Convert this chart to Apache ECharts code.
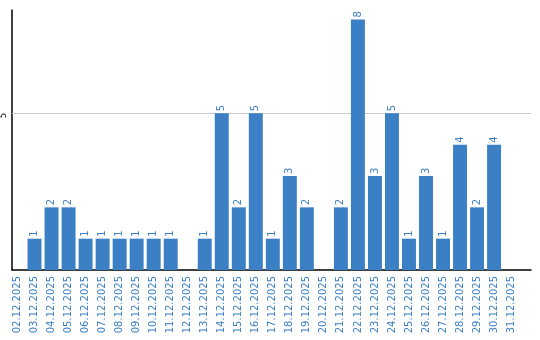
<!DOCTYPE html>
<html><head><meta charset="utf-8">
<script src="https://cdn.jsdelivr.net/npm/echarts@6/dist/echarts.min.js"></script>
<style>html,body{margin:0;padding:0;background:#fff}#c{width:540px;height:340px}</style>
</head><body><div id="c"></div>
<script>
const categories = ["02.12.2025","03.12.2025","04.12.2025","05.12.2025","06.12.2025","07.12.2025","08.12.2025","09.12.2025","10.12.2025","11.12.2025","12.12.2025","13.12.2025","14.12.2025","15.12.2025","16.12.2025","17.12.2025","18.12.2025","19.12.2025","20.12.2025","21.12.2025","22.12.2025","23.12.2025","24.12.2025","25.12.2025","26.12.2025","27.12.2025","28.12.2025","29.12.2025","30.12.2025","31.12.2025"];
const values = [0,1,2,2,1,1,1,1,1,1,0,1,5,2,5,1,3,2,0,2,8,3,5,1,3,1,4,2,4,0];
const yTicks = [5];
const blue = '#3b7fc4';
const yMax = 8.3;
const chart = echarts.init(document.getElementById('c'));
chart.setOption({
  animation: false,
  grid: [
    {left: 11, right: 9, top: 10, bottom: 70},
    {left: 9, right: 20.4, top: 10, bottom: 70}
  ],
  xAxis: [
    {gridIndex: 0, type: 'value', min: 0, max: 1,
      axisLine: {show: true, onZero: false, lineStyle: {color: '#000', width: 1.5}},
      axisTick: {show: false}, axisLabel: {show: false}, splitLine: {show: false}},
    {gridIndex: 1, type: 'category', data: categories,
      axisLine: {show: false}, axisTick: {show: false},
      axisLabel: {rotate: 90, color: blue, fontFamily: 'DejaVu Sans', fontSize: 10, margin: 6, interval: 0}}
  ],
  yAxis: [
    {gridIndex: 0, type: 'value', min: 0, max: yMax, interval: 5,
      axisLine: {show: true, lineStyle: {color: '#000', width: 1.5}},
      axisTick: {show: false}, splitLine: {show: false},
      axisLabel: {rotate: 90, color: '#000', fontFamily: 'DejaVu Sans', fontSize: 8, margin: 4,
        align: 'center', padding: [0, 4, 0, 0],
        formatter: v => yTicks.includes(v) ? String(v) : ''}},
    {gridIndex: 1, type: 'value', min: 0, max: yMax,
      axisLine: {show: false}, axisTick: {show: false}, axisLabel: {show: false}, splitLine: {show: false}}
  ],
  series: [
    {type: 'line', xAxisIndex: 0, yAxisIndex: 0, data: [], silent: true, z: 1,
      markLine: {silent: true, symbol: 'none', label: {show: false}, z: 1,
        lineStyle: {color: '#c8c8c8', width: 1, type: 'solid'},
        data: yTicks.map(t => ({yAxis: t}))}},
    {type: 'bar', xAxisIndex: 1, yAxisIndex: 1, data: values, barCategoryGap: '18%',
      itemStyle: {color: blue},
      label: {show: true, position: 'top', rotate: 90, align: 'left', verticalAlign: 'middle', distance: 2,
        color: blue, fontFamily: 'DejaVu Sans', fontSize: 10,
        formatter: p => p.value ? String(p.value) : ''},
      z: 3}
  ]
});
</script></body></html>
